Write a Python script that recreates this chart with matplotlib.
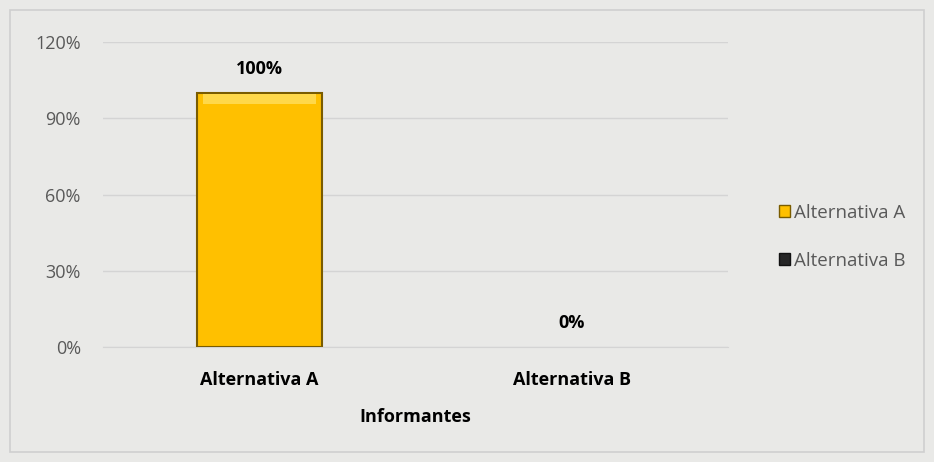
import matplotlib.pyplot as plt
from matplotlib.patches import Rectangle
from matplotlib.ticker import FuncFormatter

categories = ['Alternativa A', 'Alternativa B']
values = [100, 0]
labels = ['100%', '0%']
colors = ['#FFC000', '#262626']
edges = ['#7a5c00', '#111111']
yticks = [0, 30, 60, 90, 120]

plt.rcParams['font.family'] = ['Open Sans', 'DejaVu Sans']

fig = plt.figure(figsize=(9.34, 4.62), dpi=100, facecolor='#e9e9e7')
# chart border
fig.patches.append(Rectangle((10/934, 10/462), 914/934, 442/462, transform=fig.transFigure,
                             fill=False, edgecolor='#cfcfcf', linewidth=1.2))

ax = fig.add_axes([103/934, 1 - 347/462, 625/934, 305/462])
ax.set_facecolor('none')

x = range(len(categories))
for i, v in enumerate(values):
    if v > 0:
        ax.bar(i, v, width=0.4, color=colors[i], edgecolor=edges[i], linewidth=1.5, zorder=3)
        # light top bevel
        ax.bar(i, v * 0.04, bottom=v * 0.955, width=0.36, color='#FFD84A', linewidth=0, zorder=4)

for i, (v, lab) in enumerate(zip(values, labels)):
    ax.text(i, v + 9.4, lab, ha='center', va='center',
            fontsize=13, fontweight='bold', color='black')

ax.set_xlim(-0.5, 1.5)
ax.set_ylim(0, 120)
ax.set_yticks(yticks)
ax.yaxis.set_major_formatter(FuncFormatter(lambda v, p: f'{v:.0f}%'))
ax.grid(axis='y', color='#d4d4d4', linewidth=1, zorder=0)
ax.set_xticks(list(x))
ax.set_xticklabels(categories, fontsize=13, fontweight='bold', color='black')
ax.tick_params(axis='y', length=0, labelsize=13, labelcolor='#595959', pad=16)
ax.tick_params(axis='x', length=0, pad=17)
for s in ['top', 'right', 'left']:
    ax.spines[s].set_visible(False)
ax.spines['bottom'].set_color('#d4d4d4')
ax.set_xlabel('Informantes', fontsize=13, fontweight='bold')
ax.xaxis.set_label_coords(0.5, -(417 - 347) / 305)
ax.xaxis.label.set_va('center')

handles = [Rectangle((0, 0), 1, 1, facecolor=c, edgecolor=e) for c, e in zip(colors, edges)]
fig.legend(handles, categories, loc='center left', bbox_to_anchor=(762/934, 1 - 237/462),
           frameon=False, fontsize=13.5, labelcolor='#595959', handlelength=0.6, handleheight=0.6,
           handletextpad=0.2, labelspacing=1.6)

fig.savefig('out.png', dpi=100, facecolor=fig.get_facecolor())
